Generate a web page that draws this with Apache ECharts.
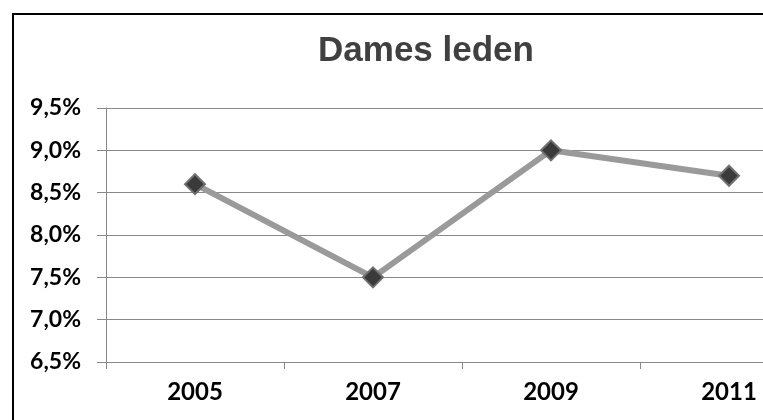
<!DOCTYPE html>
<html>
<head>
<meta charset="utf-8">
<script src="https://cdn.jsdelivr.net/npm/echarts@6/dist/echarts.min.js"></script>
<style>
html,body{margin:0;padding:0;background:#fff;overflow:hidden;}
#wrap{width:763px;height:420px;overflow:hidden;position:relative;}
#c{width:840px;height:420px;}
</style>
</head>
<body>
<div id="wrap"><div id="c"></div></div>
<script>
const titleText = 'Dames leden';
const categories = ['2005', '2007', '2009', '2011'];
const values = [8.6, 7.5, 9.0, 8.7];
const yMin = 6.5, yMax = 9.5, yStep = 0.5;

const chart = echarts.init(document.getElementById('c'));
chart.setOption({
  backgroundColor: '#fff',
  animation: false,
  graphic: [
    { type: 'polyline', shape: { points: [[13, 420], [13, 14], [840, 14]] },
      style: { stroke: '#000', lineWidth: 2, fill: null } },
    { type: 'text', x: 426, y: 34,
      style: { text: titleText, textAlign: 'center', textVerticalAlign: 'top',
               font: 'bold 35px "Liberation Sans", Arial, sans-serif', fill: '#404040' } }
  ],
  grid: { left: 106, top: 108, width: 712, height: 254 },
  xAxis: {
    type: 'category',
    data: categories,
    boundaryGap: true,
    axisLine: { show: true, lineStyle: { color: '#888', width: 1 } },
    axisTick: { show: true, length: 7, lineStyle: { color: '#888' } },
    axisLabel: { margin: 18, color: '#000', fontFamily: 'Lato', fontWeight: 'bold', fontSize: 24 },
    splitLine: { show: false }
  },
  yAxis: {
    type: 'value',
    min: yMin, max: yMax, interval: yStep,
    axisLine: { show: true, lineStyle: { color: '#888', width: 1 } },
    axisTick: { show: true, length: 9, lineStyle: { color: '#888' } },
    axisLabel: { margin: 25, color: '#000', fontFamily: 'Lato', fontWeight: 'bold', fontSize: 23,
      formatter: v => v.toFixed(1).replace('.', ',') + '%' },
    splitLine: { show: true, lineStyle: { color: '#888', width: 1 } }
  },
  series: [{
    type: 'line',
    data: values,
    symbol: 'diamond',
    symbolSize: 20,
    lineStyle: { color: '#9a9a9a', width: 6 },
    itemStyle: { color: '#3a3a3a', borderColor: '#707070', borderWidth: 2 }
  }]
});
</script>
</body>
</html>
